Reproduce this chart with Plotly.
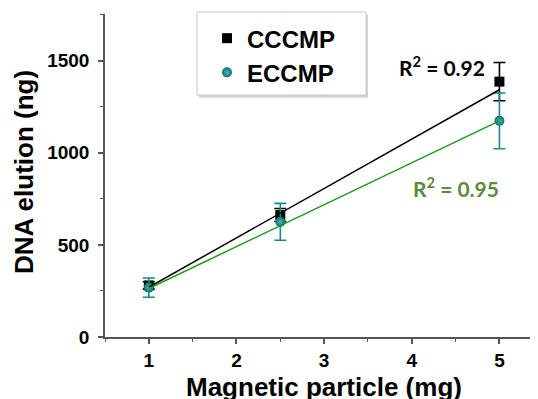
import plotly.graph_objects as go

# ---- data ----
x_mass = [1, 2.5, 5]
cccmp = [280, 662, 1386]
cccmp_err = [20, 35, 104]
eccmp = [268, 625, 1173]
eccmp_err = [52, 100, 151]

fit_x = [1, 5]
cccmp_fit = [270, 1342]
eccmp_fit = [263, 1173]

r2_labels = ["R<sup>2</sup> = 0.92", "R<sup>2</sup> = 0.95"]

x_ticks = [1, 2, 3, 4, 5]
y_ticks = [0, 500, 1000, 1500]

TEAL = "#16898a"
FIT_GREEN = "#1c9a1c"
TXT_GREEN = "#5a8a3a"
FONT = "Liberation Sans, Arial, sans-serif"

fig = go.Figure()

fig.add_trace(go.Scatter(
    x=x_mass, y=cccmp, mode="markers", name="CCCMP", legendgroup="a",
    marker=dict(symbol="square", size=10, color="black"),
    error_y=dict(type="data", array=cccmp_err, color="black", thickness=1.6, width=6),
))
fig.add_trace(go.Scatter(
    x=x_mass, y=eccmp, mode="markers", name="ECCMP", legendgroup="b",
    marker=dict(symbol="circle", size=10, color="#0c7272",
                gradient=dict(type="radial", color="#4cb3b3")),
    error_y=dict(type="data", array=eccmp_err, color=TEAL, thickness=1.6, width=6),
))
fig.add_trace(go.Scatter(
    x=fit_x, y=cccmp_fit, mode="lines", showlegend=False,
    line=dict(color="black", width=1.5),
))
fig.add_trace(go.Scatter(
    x=fit_x, y=eccmp_fit, mode="lines", showlegend=False,
    line=dict(color=FIT_GREEN, width=1.5),
))

fig.add_annotation(x=4.35, y=1471, xref="x", yref="y", text=r2_labels[0],
                   showarrow=False, xanchor="center", yanchor="middle",
                   font=dict(family="Lato, sans-serif", size=21, color="black", weight="bold"))
fig.add_annotation(x=4.5, y=814, xref="x", yref="y", text=r2_labels[1],
                   showarrow=False, xanchor="center", yanchor="middle",
                   font=dict(family="Lato, sans-serif", size=21, color=TXT_GREEN, weight="bold"))

# axis titles as annotations for precise placement
fig.add_annotation(x=0.5058, y=-0.1548, xref="paper", yref="paper",
                   text="Magnetic particle (mg)", showarrow=False,
                   xanchor="center", yanchor="middle",
                   font=dict(family=FONT, size=26, color="black", weight="bold"))
fig.add_annotation(x=-0.187, y=0.511, xref="paper", yref="paper",
                   text="DNA elution (ng)", showarrow=False, textangle=-90,
                   xanchor="center", yanchor="middle",
                   font=dict(family=FONT, size=26, color="black", weight="bold"))

# legend frame with soft shadow
fig.add_shape(type="rect", xref="paper", yref="paper",
              x0=0.2170, x1=0.6075, y0=0.741, y1=0.998,
              line=dict(width=0), fillcolor="#d4d4d4", layer="above")
fig.add_shape(type="rect", xref="paper", yref="paper",
              x0=0.2125, x1=0.6028, y0=0.749, y1=1.006,
              line=dict(color="#c8c8c8", width=1), fillcolor="white", layer="above")

axis_common = dict(
    showline=True, linecolor="#555555", linewidth=1.5,
    ticks="outside", ticklen=5, tickwidth=1.5, tickcolor="#555555",
    showgrid=False, zeroline=False, automargin=False,
    tickfont=dict(family=FONT, size=19, color="black", weight="bold"),
)

fig.update_xaxes(
    range=[0.5, 5.44], tickvals=x_ticks,
    minor=dict(dtick=0.5, tick0=0.5, ticks="outside", ticklen=3, tickcolor="#555555", tickwidth=1.2),
    ticklabelstandoff=0,
    **axis_common,
)
fig.update_yaxes(
    range=[0, 1753], tickvals=y_ticks,
    minor=dict(dtick=250, tick0=0, ticks="outside", ticklen=3, tickcolor="#555555", tickwidth=1.2),
    ticklabelstandoff=5,
    **axis_common,
)

fig.update_layout(
    width=538, height=399,
    margin=dict(l=97, r=8, t=6, b=70),
    plot_bgcolor="white", paper_bgcolor="white",
    legend=dict(
        x=0.2356, y=0.749, xanchor="left", yanchor="bottom",
        bgcolor="rgba(0,0,0,0)", borderwidth=0,
        font=dict(family=FONT, size=24, color="black", weight="bold"),
        tracegroupgap=0, traceorder="grouped",
    ),
)

fig.write_html("out.html")
